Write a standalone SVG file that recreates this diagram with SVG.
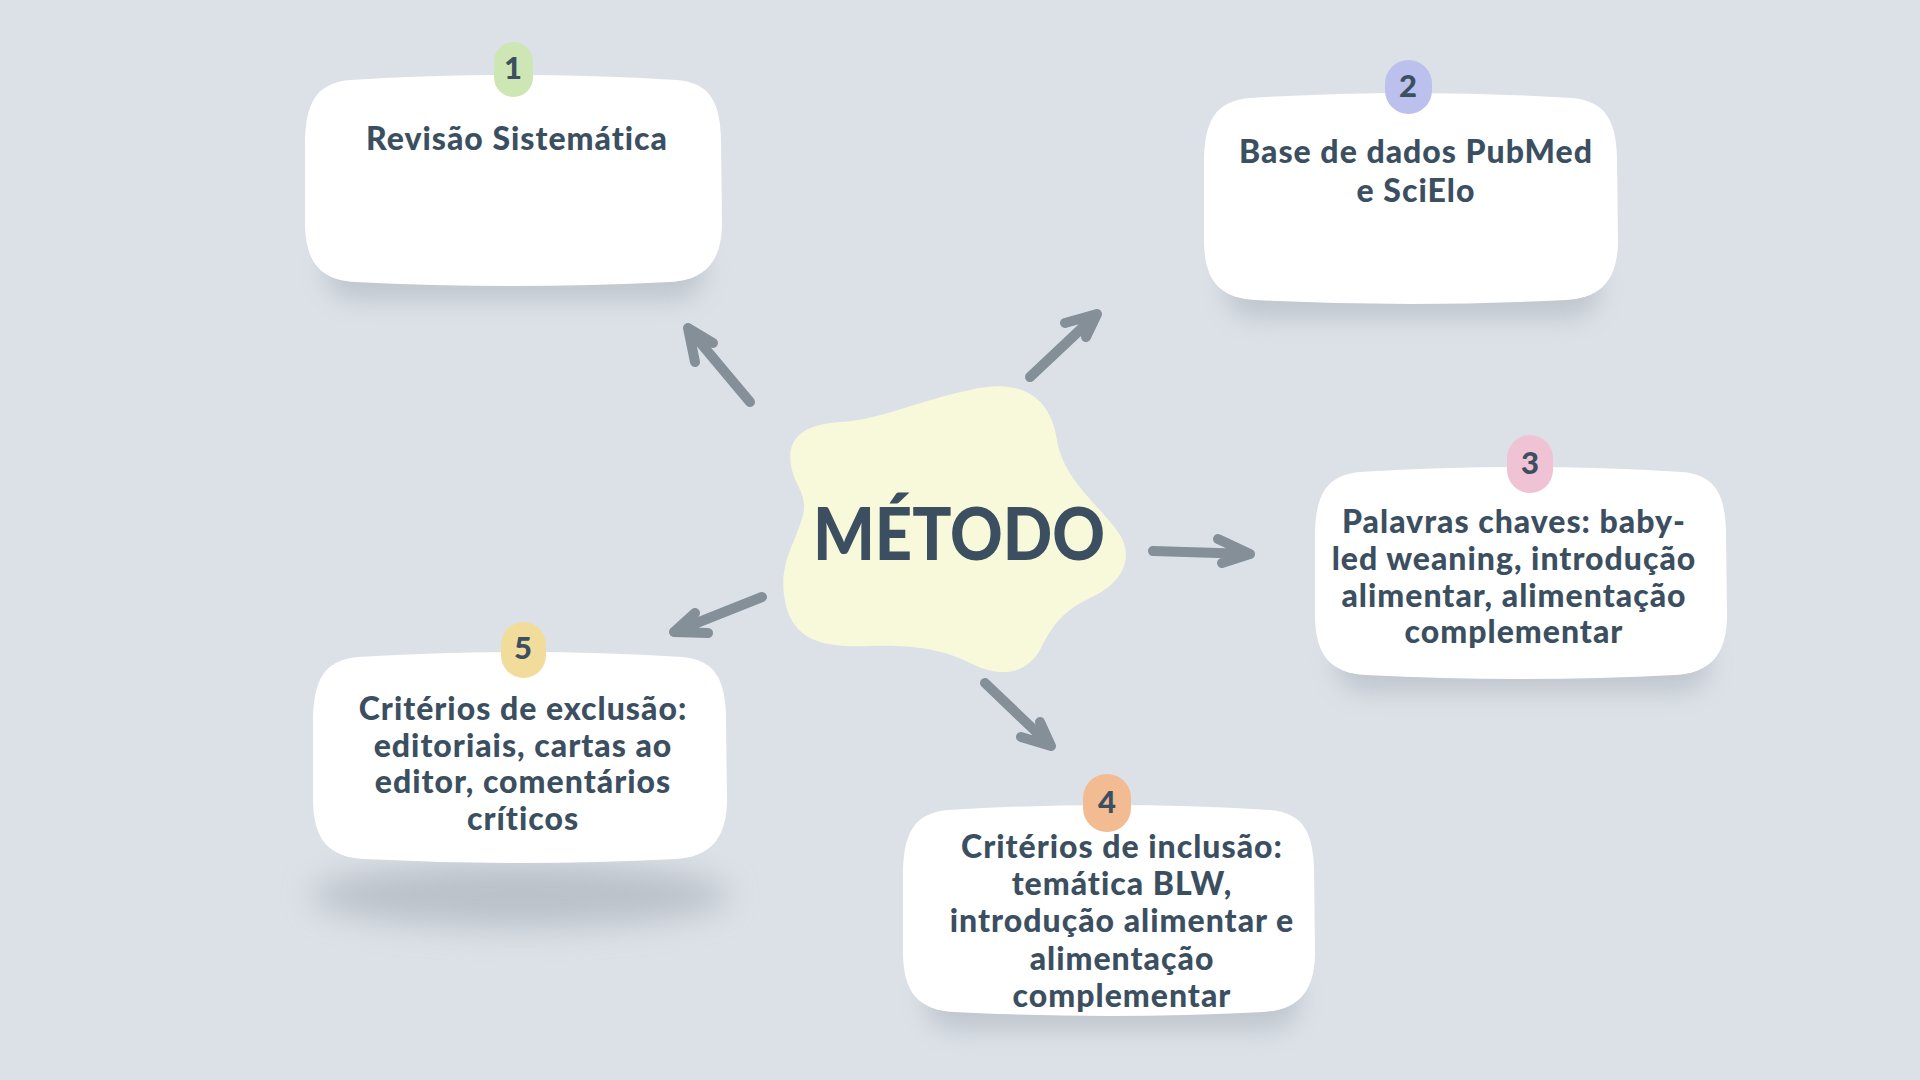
<svg xmlns="http://www.w3.org/2000/svg" width="1920" height="1080" viewBox="0 0 1920 1080">
<defs>
<style>
.box{fill:#ffffff}
.txt{font-family:Lato,"Noto Sans","Liberation Sans",sans-serif;font-weight:900;font-size:32px;letter-spacing:1px;fill:#3b4f61;text-anchor:middle}
.num{font-family:Lato,"Noto Sans","Liberation Sans",sans-serif;font-weight:900;font-size:31px;fill:#3b4f61;text-anchor:middle}
.arrow{fill:none;stroke:#848f98;stroke-width:10;stroke-linecap:round;stroke-linejoin:round}
.shadow{fill:#8d959e;opacity:0.35;filter:url(#blur)}
</style>
<filter id="blur" x="-30%" y="-50%" width="160%" height="200%"><feGaussianBlur stdDeviation="12"/></filter>
<filter id="blur2" x="-30%" y="-80%" width="160%" height="260%"><feGaussianBlur stdDeviation="16"/></filter>
</defs>
<rect width="1920" height="1080" fill="#dce1e8"/>

<g id="connectors">
<path class="arrow" d="M750 402 L688 328 M713 343 L688 328 L695 362"/>
<path class="arrow" d="M1030 377 L1097 314 M1065 323 L1097 314 L1086 337"/>
<path class="arrow" d="M1153 551 L1250 554 M1218 539 L1250 554 L1222 563"/>
<path class="arrow" d="M985 683 L1051 746 M1040 722 L1051 746 L1021 737"/>
<path class="arrow" d="M762 597 L674 632 M695 613 L674 632 L708 633"/>
</g>

<g id="center">
<path fill="#f8f9da" d="M792 470 C785 440 800 425 840 422 C880 420 920 400 970 390 C1020 378 1050 395 1057 440 C1063 480 1100 505 1120 535 C1135 560 1120 585 1090 598 C1060 612 1050 630 1040 650 C1025 675 1000 678 970 663 C940 648 910 645 870 646 C820 648 790 640 784 595 C780 560 795 545 803 515 C808 495 795 485 792 470 Z"/>
<text x="959" y="560" textLength="292" lengthAdjust="spacingAndGlyphs" style="font-family:Lato,'Noto Sans','Liberation Sans',sans-serif;font-weight:900;font-size:72px;fill:#3b4f61;text-anchor:middle">MÉTODO</text>
</g>

<g id="node1">
<rect class="shadow" x="325" y="240" width="380" height="60" rx="30"/>
<path class="box" d="M350 80 Q513 70 677 80 C712 83 720 105 721 140 L722 225 C721 262 705 280 670 282 Q513 290 355 282 C320 280 306 262 305 225 L305 140 C306 105 315 83 350 80 Z"/>
<rect x="494" y="42" width="39" height="55" rx="19.5" fill="#cde6b4"/>
<text class="num" x="513" y="79">1</text>
<text class="txt" x="517" y="150">Revisão Sistemática</text>
</g>

<g id="node2">
<rect class="shadow" x="1225" y="258" width="375" height="60" rx="30"/>
<path class="box" d="M1250 98 Q1411 88 1572 98 C1607 101 1616 123 1617 158 L1618 243 C1617 280 1601 298 1566 300 Q1411 308 1255 300 C1219 298 1205 280 1204 243 L1204 158 C1205 123 1214 101 1250 98 Z"/>
<rect x="1385" y="60" width="47" height="54" rx="23.5" fill="#bcc0ec"/>
<text class="num" x="1408" y="97">2</text>
<text class="txt" x="1416" y="163">Base de dados PubMed</text>
<text class="txt" x="1416" y="202">e SciElo</text>
</g>

<g id="node3">
<rect class="shadow" x="1335" y="632" width="375" height="60" rx="30"/>
<path class="box" d="M1360 472 Q1521 462 1682 472 C1717 475 1725 497 1726 532 L1727 618 C1726 655 1710 673 1675 675 Q1521 683 1366 675 C1330 673 1316 655 1315 618 L1315 532 C1316 497 1325 475 1360 472 Z"/>
<rect x="1507" y="435" width="46" height="58" rx="23" fill="#efc3d3"/>
<text class="num" x="1530" y="474">3</text>
<text class="txt" x="1514" y="533">Palavras chaves: baby-</text>
<text class="txt" x="1514" y="570">led weaning, introdução</text>
<text class="txt" x="1514" y="607">alimentar, alimentação</text>
<text class="txt" x="1514" y="643">complementar</text>
</g>

<g id="node4">
<rect class="shadow" x="925" y="970" width="375" height="60" rx="30"/>
<path class="box" d="M948 810 Q1109 800 1270 810 C1305 813 1313 835 1314 870 L1315 955 C1314 992 1298 1010 1263 1012 Q1109 1020 954 1012 C918 1010 904 992 903 955 L903 870 C904 835 913 813 948 810 Z"/>
<rect x="1083" y="774" width="48" height="58" rx="24" fill="#f2bb92"/>
<text class="num" x="1107" y="813">4</text>
<text class="txt" x="1122" y="858">Critérios de inclusão:</text>
<text class="txt" x="1122" y="895">temática BLW,</text>
<text class="txt" x="1122" y="932">introdução alimentar e</text>
<text class="txt" x="1122" y="970">alimentação</text>
<text class="txt" x="1122" y="1007">complementar</text>
</g>

<g id="node5">
<ellipse cx="520" cy="895" rx="210" ry="32" fill="#a5acb4" opacity="0.6" filter="url(#blur2)"/>
<path class="box" d="M358 657 Q520 647 682 657 C717 660 725 682 726 717 L727 802 C726 839 710 857 675 859 Q520 867 364 859 C328 857 314 839 313 802 L313 717 C314 682 323 660 358 657 Z"/>
<rect x="501" y="622" width="45" height="56" rx="22.5" fill="#f2dc9c"/>
<text class="num" x="523" y="659">5</text>
<text class="txt" x="523" y="720">Critérios de exclusão:</text>
<text class="txt" x="523" y="757">editoriais, cartas ao</text>
<text class="txt" x="523" y="793">editor, comentários</text>
<text class="txt" x="523" y="830">críticos</text>
</g>
</svg>
